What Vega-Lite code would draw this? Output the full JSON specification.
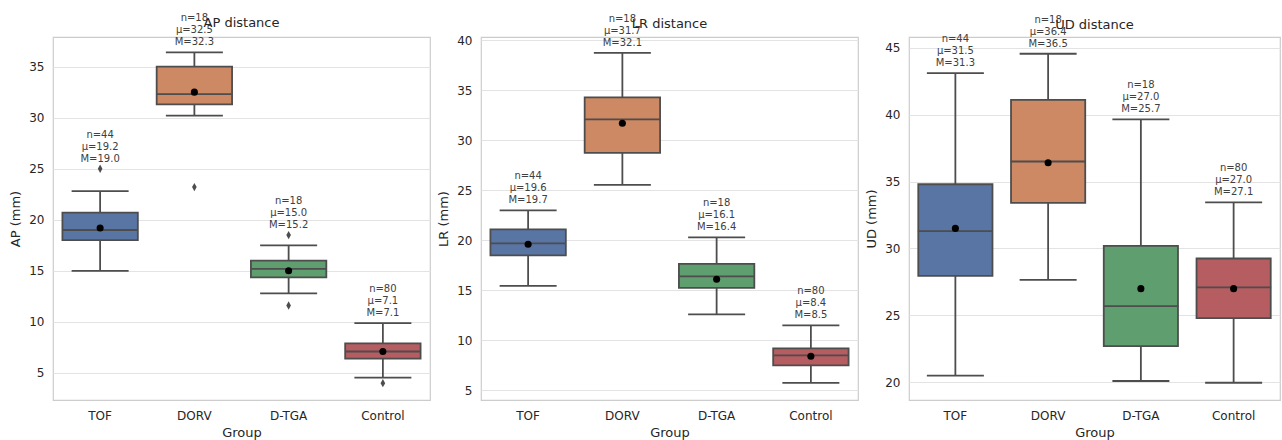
{
  "$schema": "https://vega.github.io/schema/vega-lite/v6.json",
  "padding": {"left": 9, "top": 12, "right": 0, "bottom": 0},
  "background": "white",
  "config": {
    "font": "DejaVu Sans",
    "view": {"stroke": "#cccccc", "strokeWidth": 1.2},
    "title": {"fontSize": 13, "fontWeight": "normal", "color": "#262626", "offset": 8, "frame": "group", "dy": 25},
    "axis": {"labelFont": "DejaVu Sans", "titleFont": "DejaVu Sans", "labelColor": "#262626", "titleColor": "#262626", "labelFontSize": 12, "titleFontSize": 13, "titleFontWeight": "normal", "ticks": false, "domain": false, "gridColor": "#e3e3e3", "gridWidth": 1.2}
  },
  "datasets": {
    "stats": [
      {"panel": "AP", "group": "TOF", "n": 44, "q1": 18.0, "median": 19.0, "q3": 20.7, "lo": 15.0, "hi": 22.8, "mean": 19.2, "max": 25.0},
      {"panel": "AP", "group": "DORV", "n": 18, "q1": 31.3, "median": 32.3, "q3": 35.0, "lo": 30.2, "hi": 36.4, "mean": 32.5, "max": 36.4},
      {"panel": "AP", "group": "D-TGA", "n": 18, "q1": 14.35, "median": 15.2, "q3": 16.0, "lo": 12.8, "hi": 17.5, "mean": 15.0, "max": 18.5},
      {"panel": "AP", "group": "Control", "n": 80, "q1": 6.4, "median": 7.1, "q3": 7.9, "lo": 4.55, "hi": 9.87, "mean": 7.1, "max": 9.87},
      {"panel": "LR", "group": "TOF", "n": 44, "q1": 18.5, "median": 19.7, "q3": 21.1, "lo": 15.45, "hi": 23.0, "mean": 19.6, "max": 23.0},
      {"panel": "LR", "group": "DORV", "n": 18, "q1": 28.75, "median": 32.1, "q3": 34.3, "lo": 25.55, "hi": 38.75, "mean": 31.7, "max": 38.75},
      {"panel": "LR", "group": "D-TGA", "n": 18, "q1": 15.25, "median": 16.4, "q3": 17.65, "lo": 12.6, "hi": 20.3, "mean": 16.1, "max": 20.3},
      {"panel": "LR", "group": "Control", "n": 80, "q1": 7.5, "median": 8.5, "q3": 9.2, "lo": 5.75, "hi": 11.5, "mean": 8.4, "max": 11.5},
      {"panel": "UD", "group": "TOF", "n": 44, "q1": 27.95, "median": 31.3, "q3": 34.8, "lo": 20.5, "hi": 43.1, "mean": 31.5, "max": 43.1},
      {"panel": "UD", "group": "DORV", "n": 18, "q1": 33.4, "median": 36.5, "q3": 41.1, "lo": 27.65, "hi": 44.55, "mean": 36.4, "max": 44.55},
      {"panel": "UD", "group": "D-TGA", "n": 18, "q1": 22.7, "median": 25.7, "q3": 30.2, "lo": 20.1, "hi": 39.65, "mean": 27.0, "max": 39.65},
      {"panel": "UD", "group": "Control", "n": 80, "q1": 24.8, "median": 27.1, "q3": 29.25, "lo": 19.97, "hi": 33.45, "mean": 27.0, "max": 33.45}
    ],
    "outliers": [
      {"panel": "AP", "group": "TOF", "value": 25.0},
      {"panel": "AP", "group": "DORV", "value": 23.2},
      {"panel": "AP", "group": "D-TGA", "value": 18.5},
      {"panel": "AP", "group": "D-TGA", "value": 11.6},
      {"panel": "AP", "group": "Control", "value": 4.0}
    ]
  },
  "hconcat": [
    {
      "title": "AP distance",
      "width": 377, "height": 363,
      "encoding": {
        "x": {"field": "group", "type": "nominal", "sort": ["TOF", "DORV", "D-TGA", "Control"], "scale": {"paddingInner": 0, "paddingOuter": 0}, "axis": {"title": "Group", "labelAngle": 0, "labelPadding": 10, "titlePadding": 5, "grid": false}}
      },
      "layer": [
        {"data": {"name": "stats"}, "transform": [{"filter": "datum.panel === 'AP'"}], "mark": {"type": "rule", "color": "#4d4d4d", "strokeWidth": 1.8},
         "encoding": {"y": {"field": "lo", "type": "quantitative", "scale": {"domain": [2.35, 37.9], "nice": false, "zero": false}, "axis": {"title": "AP (mm)", "values": [5, 10, 15, 20, 25, 30, 35], "labelPadding": 9, "titlePadding": 6}}, "y2": {"field": "hi"}}},
        {"data": {"name": "stats"}, "transform": [{"filter": "datum.panel === 'AP'"}], "mark": {"type": "tick", "color": "#4d4d4d", "size": 57, "thickness": 1.8, "opacity": 1},
         "encoding": {"y": {"field": "lo", "type": "quantitative"}}},
        {"data": {"name": "stats"}, "transform": [{"filter": "datum.panel === 'AP'"}], "mark": {"type": "tick", "color": "#4d4d4d", "size": 57, "thickness": 1.8, "opacity": 1},
         "encoding": {"y": {"field": "hi", "type": "quantitative"}}},
        {"data": {"name": "stats"}, "transform": [{"filter": "datum.panel === 'AP'"}], "mark": {"type": "bar", "stroke": "#4d4d4d", "strokeWidth": 1.8, "width": {"band": 0.8}},
         "encoding": {"y": {"field": "q1", "type": "quantitative"}, "y2": {"field": "q3"}, "fill": {"field": "group", "type": "nominal", "scale": {"domain": ["TOF", "DORV", "D-TGA", "Control"], "range": ["#5975a4", "#cc8963", "#5f9e6e", "#b55d60"]}, "legend": null}}},
        {"data": {"name": "stats"}, "transform": [{"filter": "datum.panel === 'AP'"}], "mark": {"type": "tick", "color": "#4d4d4d", "size": 75, "thickness": 1.8, "opacity": 1},
         "encoding": {"y": {"field": "median", "type": "quantitative"}}},
        {"data": {"name": "stats"}, "transform": [{"filter": "datum.panel === 'AP'"}], "mark": {"type": "point", "filled": true, "color": "black", "size": 50, "opacity": 1},
         "encoding": {"y": {"field": "mean", "type": "quantitative"}}},
        {"data": {"name": "outliers"}, "transform": [{"filter": "datum.panel === 'AP'"}], "mark": {"type": "point", "filled": true, "color": "#4d4d4d", "size": 70, "opacity": 1, "shape": "M0,-1L0.55,0L0,1L-0.55,0Z"},
         "encoding": {"y": {"field": "value", "type": "quantitative"}}},
        {"data": {"name": "stats"}, "transform": [{"filter": "datum.panel === 'AP'"}, {"calculate": "'n=' + datum.n + '\\nμ=' + format(datum.mean, '.1f') + '\\nM=' + format(datum.median, '.1f')", "as": "label"}],
         "mark": {"type": "text", "baseline": "bottom", "dy": -29, "fontSize": 10, "lineHeight": 12, "lineBreak": "\n", "color": "#404040"},
         "encoding": {"y": {"field": "max", "type": "quantitative"}, "text": {"field": "label"}}}
      ]
    },
    {
      "title": "LR distance",
      "width": 377, "height": 363,
      "encoding": {
        "x": {"field": "group", "type": "nominal", "sort": ["TOF", "DORV", "D-TGA", "Control"], "scale": {"paddingInner": 0, "paddingOuter": 0}, "axis": {"title": "Group", "labelAngle": 0, "labelPadding": 10, "titlePadding": 5, "grid": false}}
      },
      "layer": [
        {"data": {"name": "stats"}, "transform": [{"filter": "datum.panel === 'LR'"}], "mark": {"type": "rule", "color": "#4d4d4d", "strokeWidth": 1.8},
         "encoding": {"y": {"field": "lo", "type": "quantitative", "scale": {"domain": [4.03, 40.33], "nice": false, "zero": false}, "axis": {"title": "LR (mm)", "values": [5, 10, 15, 20, 25, 30, 35, 40], "labelPadding": 9, "titlePadding": 6}}, "y2": {"field": "hi"}}},
        {"data": {"name": "stats"}, "transform": [{"filter": "datum.panel === 'LR'"}], "mark": {"type": "tick", "color": "#4d4d4d", "size": 57, "thickness": 1.8, "opacity": 1},
         "encoding": {"y": {"field": "lo", "type": "quantitative"}}},
        {"data": {"name": "stats"}, "transform": [{"filter": "datum.panel === 'LR'"}], "mark": {"type": "tick", "color": "#4d4d4d", "size": 57, "thickness": 1.8, "opacity": 1},
         "encoding": {"y": {"field": "hi", "type": "quantitative"}}},
        {"data": {"name": "stats"}, "transform": [{"filter": "datum.panel === 'LR'"}], "mark": {"type": "bar", "stroke": "#4d4d4d", "strokeWidth": 1.8, "width": {"band": 0.8}},
         "encoding": {"y": {"field": "q1", "type": "quantitative"}, "y2": {"field": "q3"}, "fill": {"field": "group", "type": "nominal", "scale": {"domain": ["TOF", "DORV", "D-TGA", "Control"], "range": ["#5975a4", "#cc8963", "#5f9e6e", "#b55d60"]}, "legend": null}}},
        {"data": {"name": "stats"}, "transform": [{"filter": "datum.panel === 'LR'"}], "mark": {"type": "tick", "color": "#4d4d4d", "size": 75, "thickness": 1.8, "opacity": 1},
         "encoding": {"y": {"field": "median", "type": "quantitative"}}},
        {"data": {"name": "stats"}, "transform": [{"filter": "datum.panel === 'LR'"}], "mark": {"type": "point", "filled": true, "color": "black", "size": 50, "opacity": 1},
         "encoding": {"y": {"field": "mean", "type": "quantitative"}}},
        {"data": {"name": "stats"}, "transform": [{"filter": "datum.panel === 'LR'"}, {"calculate": "'n=' + datum.n + '\\nμ=' + format(datum.mean, '.1f') + '\\nM=' + format(datum.median, '.1f')", "as": "label"}],
         "mark": {"type": "text", "baseline": "bottom", "dy": -29, "fontSize": 10, "lineHeight": 12, "lineBreak": "\n", "color": "#404040"},
         "encoding": {"y": {"field": "max", "type": "quantitative"}, "text": {"field": "label"}}}
      ]
    },
    {
      "title": "UD distance",
      "width": 371, "height": 363,
      "encoding": {
        "x": {"field": "group", "type": "nominal", "sort": ["TOF", "DORV", "D-TGA", "Control"], "scale": {"paddingInner": 0, "paddingOuter": 0}, "axis": {"title": "Group", "labelAngle": 0, "labelPadding": 10, "titlePadding": 5, "grid": false}}
      },
      "layer": [
        {"data": {"name": "stats"}, "transform": [{"filter": "datum.panel === 'UD'"}], "mark": {"type": "rule", "color": "#4d4d4d", "strokeWidth": 1.8},
         "encoding": {"y": {"field": "lo", "type": "quantitative", "scale": {"domain": [18.68, 45.8], "nice": false, "zero": false}, "axis": {"title": "UD (mm)", "values": [20, 25, 30, 35, 40, 45], "labelPadding": 9, "titlePadding": 6}}, "y2": {"field": "hi"}}},
        {"data": {"name": "stats"}, "transform": [{"filter": "datum.panel === 'UD'"}], "mark": {"type": "tick", "color": "#4d4d4d", "size": 57, "thickness": 1.8, "opacity": 1},
         "encoding": {"y": {"field": "lo", "type": "quantitative"}}},
        {"data": {"name": "stats"}, "transform": [{"filter": "datum.panel === 'UD'"}], "mark": {"type": "tick", "color": "#4d4d4d", "size": 57, "thickness": 1.8, "opacity": 1},
         "encoding": {"y": {"field": "hi", "type": "quantitative"}}},
        {"data": {"name": "stats"}, "transform": [{"filter": "datum.panel === 'UD'"}], "mark": {"type": "bar", "stroke": "#4d4d4d", "strokeWidth": 1.8, "width": {"band": 0.8}},
         "encoding": {"y": {"field": "q1", "type": "quantitative"}, "y2": {"field": "q3"}, "fill": {"field": "group", "type": "nominal", "scale": {"domain": ["TOF", "DORV", "D-TGA", "Control"], "range": ["#5975a4", "#cc8963", "#5f9e6e", "#b55d60"]}, "legend": null}}},
        {"data": {"name": "stats"}, "transform": [{"filter": "datum.panel === 'UD'"}], "mark": {"type": "tick", "color": "#4d4d4d", "size": 75, "thickness": 1.8, "opacity": 1},
         "encoding": {"y": {"field": "median", "type": "quantitative"}}},
        {"data": {"name": "stats"}, "transform": [{"filter": "datum.panel === 'UD'"}], "mark": {"type": "point", "filled": true, "color": "black", "size": 50, "opacity": 1},
         "encoding": {"y": {"field": "mean", "type": "quantitative"}}},
        {"data": {"name": "stats"}, "transform": [{"filter": "datum.panel === 'UD'"}, {"calculate": "'n=' + datum.n + '\\nμ=' + format(datum.mean, '.1f') + '\\nM=' + format(datum.median, '.1f')", "as": "label"}],
         "mark": {"type": "text", "baseline": "bottom", "dy": -29, "fontSize": 10, "lineHeight": 12, "lineBreak": "\n", "color": "#404040"},
         "encoding": {"y": {"field": "max", "type": "quantitative"}, "text": {"field": "label"}}}
      ]
    }
  ],
  "spacing": 51,
  "bounds": "flush",
  "resolve": {"scale": {"y": "independent", "x": "independent", "fill": "independent"}}
}
